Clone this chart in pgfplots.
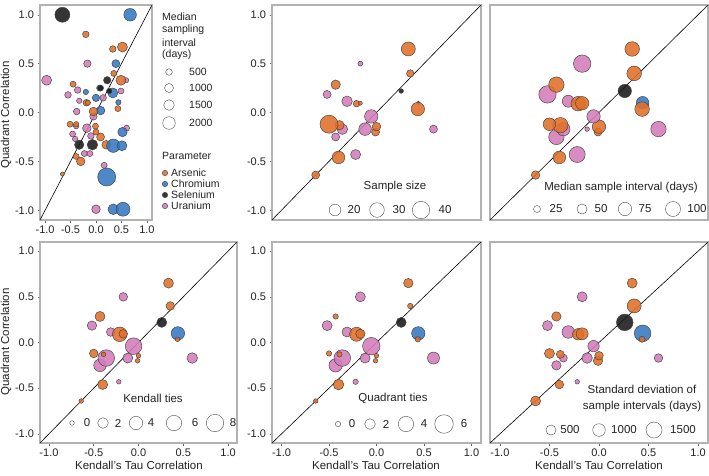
\documentclass[border=0pt]{standalone}
\usepackage{pgfplots}
\pgfplotsset{compat=1.18}
\usepackage{pgfplotstable}
\usepackage{fontspec}
\setmainfont{Liberation Sans}

\definecolor{asC}{RGB}{224,112,40}
\definecolor{crC}{RGB}{52,120,192}
\definecolor{seC}{RGB}{25,25,25}
\definecolor{uC}{RGB}{212,124,186}
\definecolor{frameC}{RGB}{178,178,178}
\definecolor{txtC}{RGB}{35,35,35}

\newcommand\tickfont{\fontsize{11}{13}\selectfont}
\newcommand\labfont{\fontsize{11.5}{13}\selectfont}
\newcommand\legfont{\fontsize{11.5}{13}\selectfont}
\newcommand\sidefont{\fontsize{10.5}{12}\selectfont}

% all sites: Kendall tau, quadrant correlation, parameter, marker radius (median sampling interval)
\pgfplotstableread{
x y p r
-0.66 1.00 Se 7.5
0.67 1.00 Cr 6.3
-0.20 0.80 As 3.3
0.52 0.67 As 5.0
0.33 0.65 As 3.3
0.39 0.50 Cr 4.0
-0.17 0.50 U 3.7
0.35 0.40 As 3.0
-0.97 0.33 U 5.0
0.59 0.33 U 2.7
0.49 0.33 As 5.0
0.22 0.33 Se 3.7
-0.45 0.29 As 3.0
0.07 0.25 Cr 3.0
0.09 0.25 Se 3.0
-0.36 0.23 U 3.3
-0.20 0.21 Cr 2.7
-0.55 0.18 U 3.3
0.49 0.22 U 3.0
0.33 0.20 Cr 5.0
0.26 0.22 Se 2.7
0.14 0.15 U 3.3
0.00 0.15 Cr 3.7
-0.33 0.12 U 2.7
-0.19 0.10 As 3.3
-0.16 0.10 As 2.7
0.44 0.105 Cr 2.7
0.43 0.04 As 3.0
0.09 0.02 Cr 4.3
-0.38 0.01 U 3.3
-0.05 -0.04 U 3.7
-0.05 0.01 As 4.3
-0.51 -0.12 As 3.0
-0.39 -0.14 U 2.7
-0.39 -0.12 As 2.7
-0.18 -0.16 U 4.3
-0.01 -0.14 As 3.0
0.60 -0.16 U 3.0
0.52 -0.20 Cr 4.7
-0.46 -0.22 U 3.0
0.00 -0.20 As 3.0
-0.10 -0.24 U 3.3
0.09 -0.25 As 4.0
-0.41 -0.27 U 2.7
0.20 -0.33 As 4.3
0.34 -0.34 Cr 6.7
0.51 -0.34 Cr 5.0
-0.33 -0.33 Se 4.7
-0.07 -0.33 Se 5.3
-0.23 -0.42 U 3.0
-0.12 -0.42 U 3.0
-0.39 -0.45 As 3.0
-0.30 -0.50 As 4.3
0.16 -0.54 U 3.0
0.21 -0.66 Cr 9.0
-0.66 -0.63 As 2.0
0.00 -0.99 U 4.3
0.34 -0.99 Cr 5.3
0.53 -0.99 Cr 7.0
}\allsites

% sites in the detail panels; marker radius for each size variable
% rn: sample size, rmed: median sample interval, rkt: Kendall ties,
% rqt: quadrant ties, rsd: sd of sample intervals
\pgfplotstableread{
x y p rn rmed rkt rqt rsd
-0.64 -0.64 As 4.0 4.3 2.3 2.3 5.0
-0.40 -0.46 As 6.3 6.3 5.0 5.3 4.3
-0.22 -0.43 U 5.0 8.0 2.3 2.7 2.3
-0.43 -0.25 U 4.0 7.7 6.3 6.7 4.7
-0.36 -0.17 U 5.3 6.7 8.3 8.3 4.0
-0.39 -0.13 As 4.7 7.7 2.3 2.7 4.0
-0.50 -0.12 As 9.0 6.3 4.3 2.7 5.0
-0.12 -0.17 U 6.3 2.3 5.0 5.0 5.3
-0.01 -0.20 As 4.0 4.0 2.3 2.3 4.7
0.00 -0.145 As 4.3 6.7 2.3 2.3 4.3
-0.055 -0.04 U 6.7 6.7 8.3 8.7 5.7
-0.52 0.185 U 4.0 8.7 4.7 5.0 5.0
-0.43 0.285 As 4.7 7.7 5.0 2.7 4.7
-0.31 0.115 U 5.3 6.0 4.3 5.0 6.3
-0.21 0.09 As 3.3 7.3 7.3 7.0 5.7
-0.17 0.095 As 2.0 6.7 4.3 4.7 6.0
-0.17 0.50 U 2.5 8.7 4.3 5.0 5.0
0.335 0.65 As 7.0 7.3 5.0 4.7 5.0
0.355 0.40 As 3.7 7.3 4.3 2.7 7.0
0.26 0.22 Se 2.3 6.7 5.0 5.0 8.3
0.44 0.10 Cr 1.7 6.3 6.7 6.7 8.3
0.435 0.035 As 6.7 7.3 2.3 2.7 3.0
0.60 -0.17 U 4.0 7.7 5.3 6.0 4.3
}\detailsites

\pgfplotsset{
  panel/.style={
    scale only axis, anchor=south west,
    xmin=-1.1, xmax=1.1, ymin=-1.1, ymax=1.1,
    axis line style={frameC, line width=1.4pt},
    xtick={-1,-0.5,0,0.5,1}, ytick={-1,-0.5,0,0.5,1},
    tick style={black!60, line width=0.5pt},
    tick align=outside, major tick length=2.5pt, tick pos=left,
    every tick label/.append style={font=\tickfont, text=txtC},
    /pgf/number format/.cd, fixed, fixed zerofill, precision=1, assume math mode=true,
  },
  nox/.style={xtick=\empty},
  noy/.style={ytick=\empty},
  sites/.style={
    scatter, only marks, mark=*,
    scatter src=explicit symbolic,
    scatter/classes={
      As={mark=*, fill=asC, draw=black!75, fill opacity=0.88, line width=0.45pt},
      Cr={mark=*, fill=crC, draw=black!75, fill opacity=0.88, line width=0.45pt},
      Se={mark=*, fill=seC, draw=black!75, fill opacity=0.88, line width=0.45pt},
      U={mark=*, fill=uC, draw=black!75, fill opacity=0.88, line width=0.45pt}},
    visualization depends on={\thisrow{#1} \as \rad},
    scatter/@pre marker code/.append style={/tikz/mark size=\rad},
  },
  keys/.style={
    scatter, only marks, mark=*, point meta=\thisrow{r},
    scatter/use mapped color={draw=black!70, fill=white},
    visualization depends on={\thisrow{r} \as \rad},
    scatter/@pre marker code/.append style={/tikz/mark size=\rad, /tikz/line width=0.5pt},
  },
  oneone/.style={black, line width=0.6pt, no marks},
}

\begin{document}
\begin{tikzpicture}
\useasboundingbox (0,0) rectangle (709pt,475pt);

% top left: all sites
\begin{axis}[panel, at={(40pt,255pt)}, width=112pt, height=215pt]
  \addplot[sites=r] table[x=x, y=y, meta=p] {\allsites};
  \addplot[oneone] coordinates {(-1.1,-1.1) (1.1,1.1)};
\end{axis}

% top middle: sample size
\begin{axis}[panel, nox, at={(272pt,255pt)}, width=209pt, height=215pt]
  \addplot[sites=rn] table[x=x, y=y, meta=p] {\detailsites};
  \addplot[oneone] coordinates {(-1.1,-1.1) (1.1,1.1)};
\end{axis}

% top right: median sample interval
\begin{axis}[panel, nox, noy, at={(490pt,255pt)}, width=218pt, height=215pt]
  \addplot[sites=rmed] table[x=x, y=y, meta=p] {\detailsites};
  \addplot[oneone] coordinates {(-1.1,-1.1) (1.1,1.1)};
\end{axis}

% bottom left: Kendall ties
\begin{axis}[panel, at={(40pt,32pt)}, width=197pt, height=201pt]
  \addplot[sites=rkt] table[x=x, y=y, meta=p] {\detailsites};
  \addplot[oneone] coordinates {(-1.1,-1.1) (1.1,1.1)};
\end{axis}

% bottom middle: quadrant ties
\begin{axis}[panel, at={(272pt,32pt)}, width=209pt, height=201pt]
  \addplot[sites=rqt] table[x=x, y=y, meta=p] {\detailsites};
  \addplot[oneone] coordinates {(-1.1,-1.1) (1.1,1.1)};
\end{axis}

% bottom right: sd of sample intervals
\begin{axis}[panel, noy, at={(490pt,32pt)}, width=218pt, height=201pt]
  \addplot[sites=rsd] table[x=x, y=y, meta=p] {\detailsites};
  \addplot[oneone] coordinates {(-1.1,-1.1) (1.1,1.1)};
\end{axis}

% legends and axis titles, laid out on a page-sized grid
\begin{axis}[at={(0,0)}, anchor=south west, scale only axis,
  width=709pt, height=475pt, xmin=0, xmax=709, ymin=0, ymax=475,
  y dir=reverse, hide axis, clip=false]

  % size keys
  \addplot[keys] table[x=x, y=y] {
x y r
169 72 3.3
169 88 4.5
169 105 5.3
169 123 6.3
335 210 5.8
377 210 7.3
421 210 8.7
537 209 3.5
582 209 5.0
625 209 6.7
673 209 7.5
72 423 2.3
103 423 5.3
136 423 6.7
174 423 7.7
215 423 8.7
338 424 2.7
370 424 5.3
406 424 7.7
444 424 9.3
551 430 5.0
599 430 6.3
654 430 8.0
};
  % parameter key
  \addplot[sites=r] table[x=x, y=y, meta=p] {
x y p r
165 173 As 2.7
165 184 Cr 2.7
165 195 Se 2.7
165 206 U 2.7
};

  \begin{scope}[every node/.style={font=\sidefont, text=txtC, inner sep=0pt}]
    % legend beside the overview panel
    \node[anchor=west] at (axis cs:162,17) {Median};
    \node[anchor=west] at (axis cs:162,30) {sampling};
    \node[anchor=west] at (axis cs:162,43) {interval};
    \node[anchor=west] at (axis cs:162,55) {(days)};
    \node[anchor=west] at (axis cs:189,72) {500};
    \node[anchor=west] at (axis cs:189,88) {1000};
    \node[anchor=west] at (axis cs:189,105) {1500};
    \node[anchor=west] at (axis cs:189,123) {2000};
    \node[anchor=west] at (axis cs:162,156) {Parameter};
    \node[anchor=west] at (axis cs:171,173) {Arsenic};
    \node[anchor=west] at (axis cs:171,184) {Chromium};
    \node[anchor=west] at (axis cs:171,195) {Selenium};
    \node[anchor=west] at (axis cs:171,206) {Uranium};
  \end{scope}

  \begin{scope}[every node/.style={font=\legfont, text=txtC, inner sep=0pt}]
    % sample size
    \node at (axis cs:395,187) {Sample size};
    \node at (axis cs:354,210) {20};
    \node at (axis cs:399,210) {30};
    \node at (axis cs:445,210) {40};
    % median sample interval
    \node at (axis cs:621,188) {Median sample interval (days)};
    \node at (axis cs:556,209) {25};
    \node at (axis cs:601,209) {50};
    \node at (axis cs:645,209) {75};
    \node at (axis cs:697,209) {100};
    % Kendall ties
    \node at (axis cs:153,398) {Kendall ties};
    \node at (axis cs:87,423) {0};
    \node at (axis cs:118,423) {2};
    \node at (axis cs:151,423) {4};
    \node at (axis cs:195,423) {6};
    \node at (axis cs:233,423) {8};
    % quadrant ties
    \node at (axis cs:393,398) {Quadrant ties};
    \node at (axis cs:352,424) {0};
    \node at (axis cs:386,424) {2};
    \node at (axis cs:424,424) {4};
    \node at (axis cs:464,424) {6};
    % sd of sample intervals
    \node at (axis cs:642,389) {Standard deviation of};
    \node at (axis cs:642,407) {sample intervals (days)};
    \node at (axis cs:570,430) {500};
    \node at (axis cs:624,430) {1000};
    \node at (axis cs:683,430) {1500};
  \end{scope}

  \begin{scope}[every node/.style={font=\labfont, text=txtC, inner sep=0pt}]
    \node[rotate=90] at (axis cs:6,115) {Quadrant Correlation};
    \node[rotate=90] at (axis cs:6,342) {Quadrant Correlation};
    \node at (axis cs:139,465) {Kendall's Tau Correlation};
    \node at (axis cs:376,465) {Kendall's Tau Correlation};
    \node at (axis cs:599,465) {Kendall's Tau Correlation};
  \end{scope}
\end{axis}
\end{tikzpicture}
\end{document}
